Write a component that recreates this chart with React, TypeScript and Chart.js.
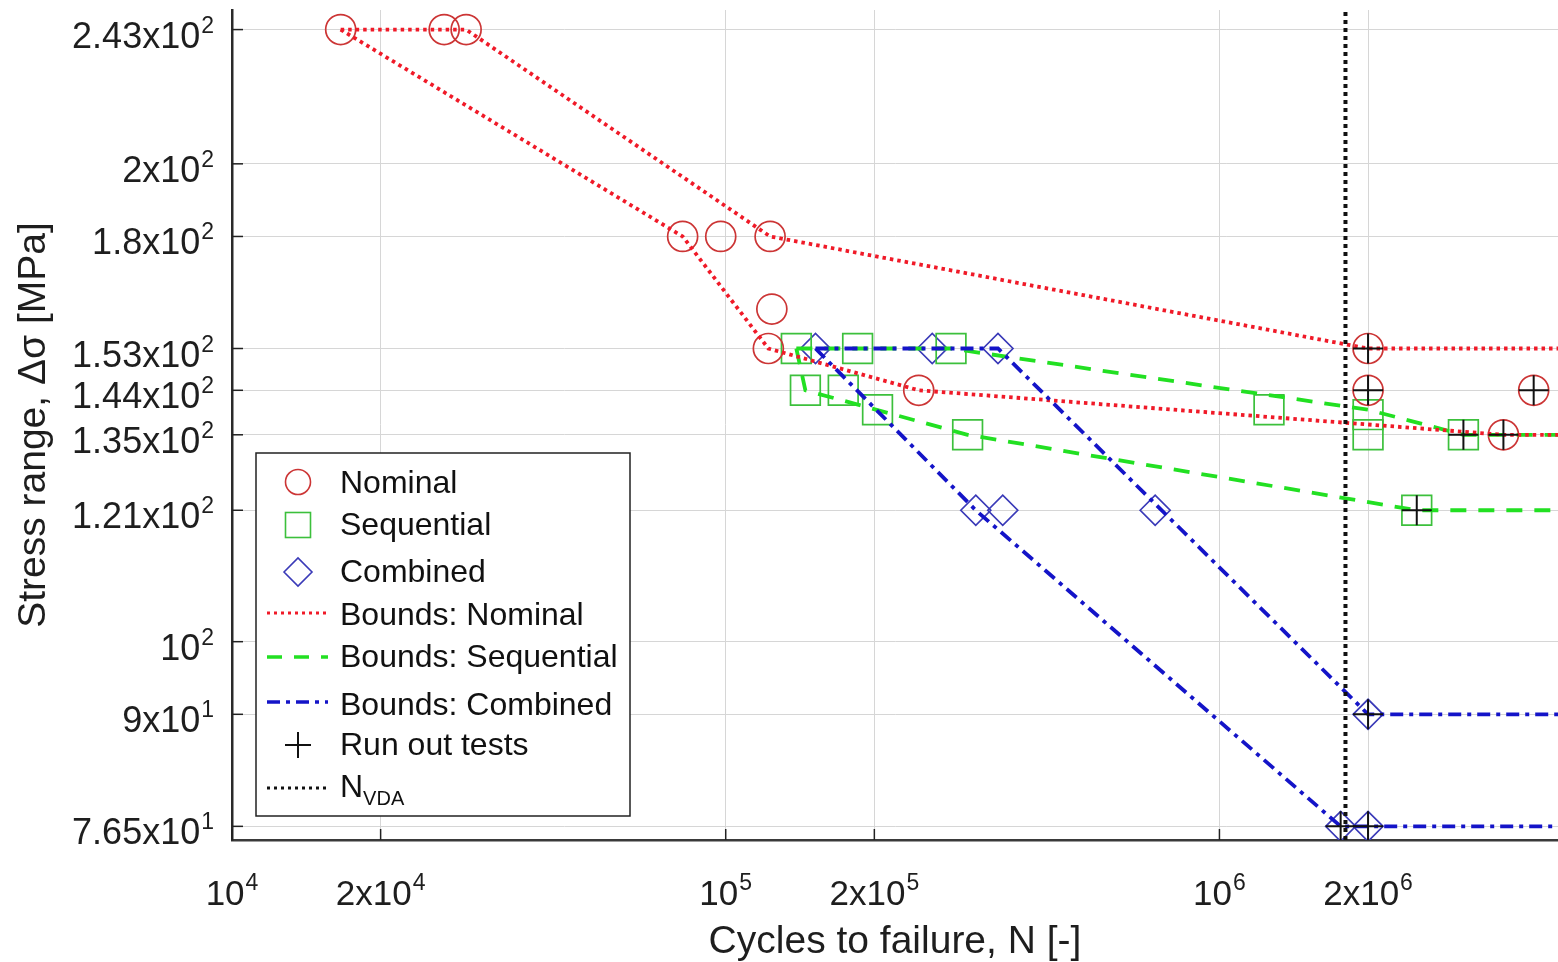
import React, { useEffect, useRef } from "react";
import { Chart, registerables } from "chart.js";

Chart.register(...registerables);

// ---------- axis ticks ----------
const X_TICKS = [1e4, 2e4, 1e5, 2e5, 1e6, 2e6];
const X_TICK_BASE = ["10", "2x10", "10", "2x10", "10", "2x10"];
const X_TICK_EXP = ["4", "4", "5", "5", "6", "6"];
const Y_TICKS = [76.5, 90, 100, 121, 135, 144, 153, 180, 200, 243];
const Y_TICK_BASE = ["7.65x10", "9x10", "10", "1.21x10", "1.35x10", "1.44x10", "1.53x10", "1.8x10", "2x10", "2.43x10"];
const Y_TICK_EXP = ["1", "1", "2", "2", "2", "2", "2", "2", "2", "2"];

const X_MIN = 1e4;
const X_MAX = 4.85e6;
const Y_MIN = 75;
const Y_MAX = 250;

// ---------- test data ----------
const nominalN = [1.66e4, 2.69e4, 2.98e4, 8.18e4, 9.77e4, 1.23e5, 1.24e5, 1.22e5, 2.46e5, 2e6, 2e6, 4.33e6, 3.76e6];
const nominalS = [243, 243, 243, 180, 180, 180, 162, 153, 144, 153, 144, 144, 135];
const sequentialN = [1.39e5, 1.85e5, 2.86e5, 1.45e5, 1.73e5, 2.03e5, 3.09e5, 1.26e6, 2e6, 2e6, 3.12e6, 2.51e6];
const sequentialS = [153, 153, 153, 144, 144, 140, 135, 140, 139, 135, 135, 121];
const combinedN = [1.52e5, 2.62e5, 3.56e5, 3.21e5, 3.64e5, 7.41e5, 2e6, 1.76e6, 2e6];
const combinedS = [153, 153, 153, 121, 121, 121, 90, 76.5, 76.5];
const runoutN = [2e6, 2e6, 4.33e6, 3.76e6, 3.12e6, 2.51e6, 2e6, 1.76e6, 2e6];
const runoutS = [153, 144, 144, 135, 135, 121, 90, 76.5, 76.5];

// ---------- bounds ----------
const nomUpperN = [1.66e4, 2.98e4, 1.23e5, 2e6, 5e6];
const nomUpperS = [243, 243, 180, 153, 153];
const nomLowerN = [1.66e4, 8.18e4, 1.22e5, 2.46e5, 3.76e6, 5e6];
const nomLowerS = [243, 180, 153, 144, 135, 135];
const seqUpperN = [1.39e5, 2.86e5, 2e6, 3.12e6, 5e6];
const seqUpperS = [153, 153, 140, 135, 135];
const seqLowerN = [1.39e5, 1.45e5, 3.09e5, 2.51e6, 5e6];
const seqLowerS = [153, 144, 135, 121, 121];
const comUpperN = [1.52e5, 3.56e5, 2e6, 5e6];
const comUpperS = [153, 153, 90, 90];
const comLowerN = [1.52e5, 3.21e5, 1.76e6, 5e6];
const comLowerS = [153, 121, 76.5, 76.5];
const N_VDA = 1.8e6;
const N_VDA_S = [Y_MIN, Y_MAX];

const FONT = '"Liberation Sans", Arial, Helvetica, sans-serif';
const RED_M = "#cc3535";
const RED_L = "#f01a28";
const GREEN_M = "#3cc03c";
const GREEN_L = "#22e022";
const BLUE_M = "#3a3ab8";
const BLUE_L = "#1414c8";
const TXT = "#1e1e1e";

const NOM_DASH = [3.5, 4];
const SEQ_DASH = [16, 12];
const COM_DASH = [13, 6, 4, 6];
const VDA_DASH = [4, 4];

const pts = (xs: number[], ys: number[]) => xs.map((x, i) => ({ x, y: ys[i] }));

function drawSupText(
  ctx: CanvasRenderingContext2D,
  base: string,
  sup: string,
  x: number,
  y: number,
  align: string,
  bSize: number,
  sSize: number,
  raise: number
) {
  ctx.font = `${bSize}px ${FONT}`;
  const wb = ctx.measureText(base).width;
  ctx.font = `${sSize}px ${FONT}`;
  const ws = ctx.measureText(sup).width;
  const total = wb + ws + 1;
  const x0 = align === "right" ? x - total : align === "center" ? x - total / 2 : x;
  ctx.textAlign = "left";
  ctx.textBaseline = "alphabetic";
  ctx.font = `${bSize}px ${FONT}`;
  ctx.fillText(base, x0, y);
  ctx.font = `${sSize}px ${FONT}`;
  ctx.fillText(sup, x0 + wb + 1, y - raise);
}

const decorPlugin = {
  id: "decor",
  beforeDatasetsDraw(chart: any) {
    const ctx = chart.ctx as CanvasRenderingContext2D;
    const { left, bottom } = chart.chartArea;
    const xs = chart.scales.x;
    const ys = chart.scales.y;
    ctx.save();
    ctx.strokeStyle = "#222";
    ctx.lineWidth = 1.5;
    Y_TICKS.forEach((v) => {
      const py = ys.getPixelForValue(v);
      ctx.beginPath();
      ctx.moveTo(left, py);
      ctx.lineTo(left + 11, py);
      ctx.stroke();
    });
    X_TICKS.forEach((v) => {
      const px = xs.getPixelForValue(v);
      ctx.beginPath();
      ctx.moveTo(px, bottom);
      ctx.lineTo(px, bottom - 11);
      ctx.stroke();
    });
    ctx.restore();
  },
  afterDraw(chart: any) {
    const ctx = chart.ctx as CanvasRenderingContext2D;
    const area = chart.chartArea;
    const xs = chart.scales.x;
    const ys = chart.scales.y;
    ctx.save();
    ctx.fillStyle = TXT;
    // tick labels
    Y_TICKS.forEach((v, i) => {
      const py = ys.getPixelForValue(v);
      drawSupText(ctx, Y_TICK_BASE[i], Y_TICK_EXP[i], area.left - 18, py + 18, "right", 36, 23, 15);
    });
    X_TICKS.forEach((v, i) => {
      const px = xs.getPixelForValue(v);
      drawSupText(ctx, X_TICK_BASE[i], X_TICK_EXP[i], px, 905, "center", 35, 23, 15);
    });
    // axis titles
    ctx.font = `39px ${FONT}`;
    ctx.textAlign = "center";
    ctx.textBaseline = "alphabetic";
    ctx.fillText("Cycles to failure, N [-]", (area.left + area.right) / 2, 953);
    ctx.save();
    ctx.translate(45, (area.top + area.bottom) / 2);
    ctx.rotate(-Math.PI / 2);
    ctx.fillText("Stress range, \u0394\u03c3 [MPa]", 0, 0);
    ctx.restore();

    // legend
    const L = 256, T = 453, R = 630, B = 816;
    ctx.fillStyle = "#ffffff";
    ctx.fillRect(L, T, R - L, B - T);
    ctx.strokeStyle = "#222";
    ctx.lineWidth = 1.5;
    ctx.strokeRect(L, T, R - L, B - T);

    const sx = 298;
    const lx0 = 267, lx1 = 328;
    ctx.lineWidth = 1.6;
    ctx.strokeStyle = RED_M;
    ctx.beginPath();
    ctx.arc(sx, 482, 12.5, 0, Math.PI * 2);
    ctx.stroke();
    ctx.strokeStyle = GREEN_M;
    ctx.strokeRect(sx - 12.5, 525 - 12.5, 25, 25);
    ctx.strokeStyle = BLUE_M;
    ctx.beginPath();
    ctx.moveTo(sx - 14, 572);
    ctx.lineTo(sx, 558);
    ctx.lineTo(sx + 14, 572);
    ctx.lineTo(sx, 586);
    ctx.closePath();
    ctx.stroke();
    const seg = (y: number, color: string, w: number, dash: number[]) => {
      ctx.strokeStyle = color;
      ctx.lineWidth = w;
      ctx.setLineDash(dash);
      ctx.beginPath();
      ctx.moveTo(lx0, y);
      ctx.lineTo(lx1, y);
      ctx.stroke();
      ctx.setLineDash([]);
    };
    seg(613, RED_L, 3, [3, 4]);
    seg(657, GREEN_L, 3.5, [15, 12]);
    seg(702, BLUE_L, 3.5, [13, 6, 4, 6]);
    seg(788, "#111", 3, [3, 4]);
    ctx.strokeStyle = "#111";
    ctx.lineWidth = 2;
    ctx.beginPath();
    ctx.moveTo(sx - 13, 745);
    ctx.lineTo(sx + 13, 745);
    ctx.moveTo(sx, 732);
    ctx.lineTo(sx, 758);
    ctx.stroke();

    ctx.fillStyle = "#111";
    ctx.textAlign = "left";
    ctx.textBaseline = "alphabetic";
    ctx.font = `32px ${FONT}`;
    const tx = 340;
    ctx.fillText("Nominal", tx, 493);
    ctx.fillText("Sequential", tx, 535);
    ctx.fillText("Combined", tx, 582);
    ctx.fillText("Bounds: Nominal", tx, 625);
    ctx.fillText("Bounds: Sequential", tx, 667);
    ctx.fillText("Bounds: Combined", tx, 715);
    ctx.fillText("Run out tests", tx, 755);
    ctx.fillText("N", tx, 797);
    const wN = ctx.measureText("N").width;
    ctx.font = `20px ${FONT}`;
    ctx.fillText("VDA", tx + wN, 805);
    ctx.restore();
  },
};

export default function App() {
  const ref = useRef<HTMLCanvasElement | null>(null);

  useEffect(() => {
    if (!ref.current) return;
    const lineDs = (data: any[], color: string, w: number, dash: number[], order: number) => ({
      type: "line" as const,
      data,
      borderColor: color,
      borderWidth: w,
      borderDash: dash,
      pointRadius: 0,
      fill: false,
      tension: 0,
      showLine: true,
      order,
    });
    const markerDs = (data: any[], style: string, r: number, color: string, w: number, order: number) => ({
      type: "scatter" as const,
      data,
      pointStyle: style,
      pointRadius: r,
      pointBorderColor: color,
      pointBackgroundColor: "rgba(0,0,0,0)",
      pointBorderWidth: w,
      borderColor: color,
      backgroundColor: "rgba(0,0,0,0)",
      showLine: false,
      order,
    });

    const chart = new Chart(ref.current, {
      type: "scatter",
      data: {
        datasets: [
          markerDs(pts(nominalN, nominalS), "circle", 15, RED_M, 1.7, 6),
          markerDs(pts(sequentialN, sequentialS), "rect", 21, GREEN_M, 1.7, 6),
          markerDs(pts(combinedN, combinedS), "rectRot", 15, BLUE_M, 1.7, 6),
          lineDs(pts(nomUpperN, nomUpperS), RED_L, 3.8, NOM_DASH, 4),
          lineDs(pts(nomLowerN, nomLowerS), RED_L, 3.8, NOM_DASH, 4),
          lineDs(pts(seqUpperN, seqUpperS), GREEN_L, 3.8, SEQ_DASH, 4),
          lineDs(pts(seqLowerN, seqLowerS), GREEN_L, 3.8, SEQ_DASH, 4),
          lineDs(pts(comUpperN, comUpperS), BLUE_L, 3.8, COM_DASH, 3),
          lineDs(pts(comLowerN, comLowerS), BLUE_L, 3.8, COM_DASH, 3),
          markerDs(pts(runoutN, runoutS), "cross", 15, "#111", 2, 2),
          lineDs(pts([N_VDA, N_VDA], N_VDA_S), "#111", 4, VDA_DASH, 1),
        ] as any,
      },
      options: {
        animation: false,
        responsive: true,
        maintainAspectRatio: false,
        layout: { autoPadding: false, padding: { top: 10, right: 0, bottom: 0, left: 0 } },
        plugins: {
          legend: { display: false },
          tooltip: { enabled: false },
        },
        scales: {
          x: {
            type: "logarithmic",
            min: X_MIN,
            max: X_MAX,
            afterBuildTicks: (s: any) => {
              s.ticks = X_TICKS.map((v) => ({ value: v }));
            },
            afterFit: (s: any) => {
              s.height = 122;
            },
            ticks: { display: false },
            grid: { color: "#d6d6d6", lineWidth: 1, drawTicks: false },
            border: { display: true, color: "#3a3a3a", width: 2.5 },
          },
          y: {
            type: "logarithmic",
            min: Y_MIN,
            max: Y_MAX,
            afterBuildTicks: (s: any) => {
              s.ticks = Y_TICKS.map((v) => ({ value: v }));
            },
            afterFit: (s: any) => {
              s.width = 232;
            },
            ticks: { display: false },
            grid: { color: "#d6d6d6", lineWidth: 1, drawTicks: false },
            border: { display: true, color: "#2a2a2a", width: 2.5 },
          },
        },
      } as any,
      plugins: [decorPlugin],
    });
    return () => chart.destroy();
  }, []);

  return (
    <div style={{ position: "absolute", left: 0, top: 0, width: 1558, height: 962, background: "#fff" }}>
      <canvas ref={ref} />
    </div>
  );
}
